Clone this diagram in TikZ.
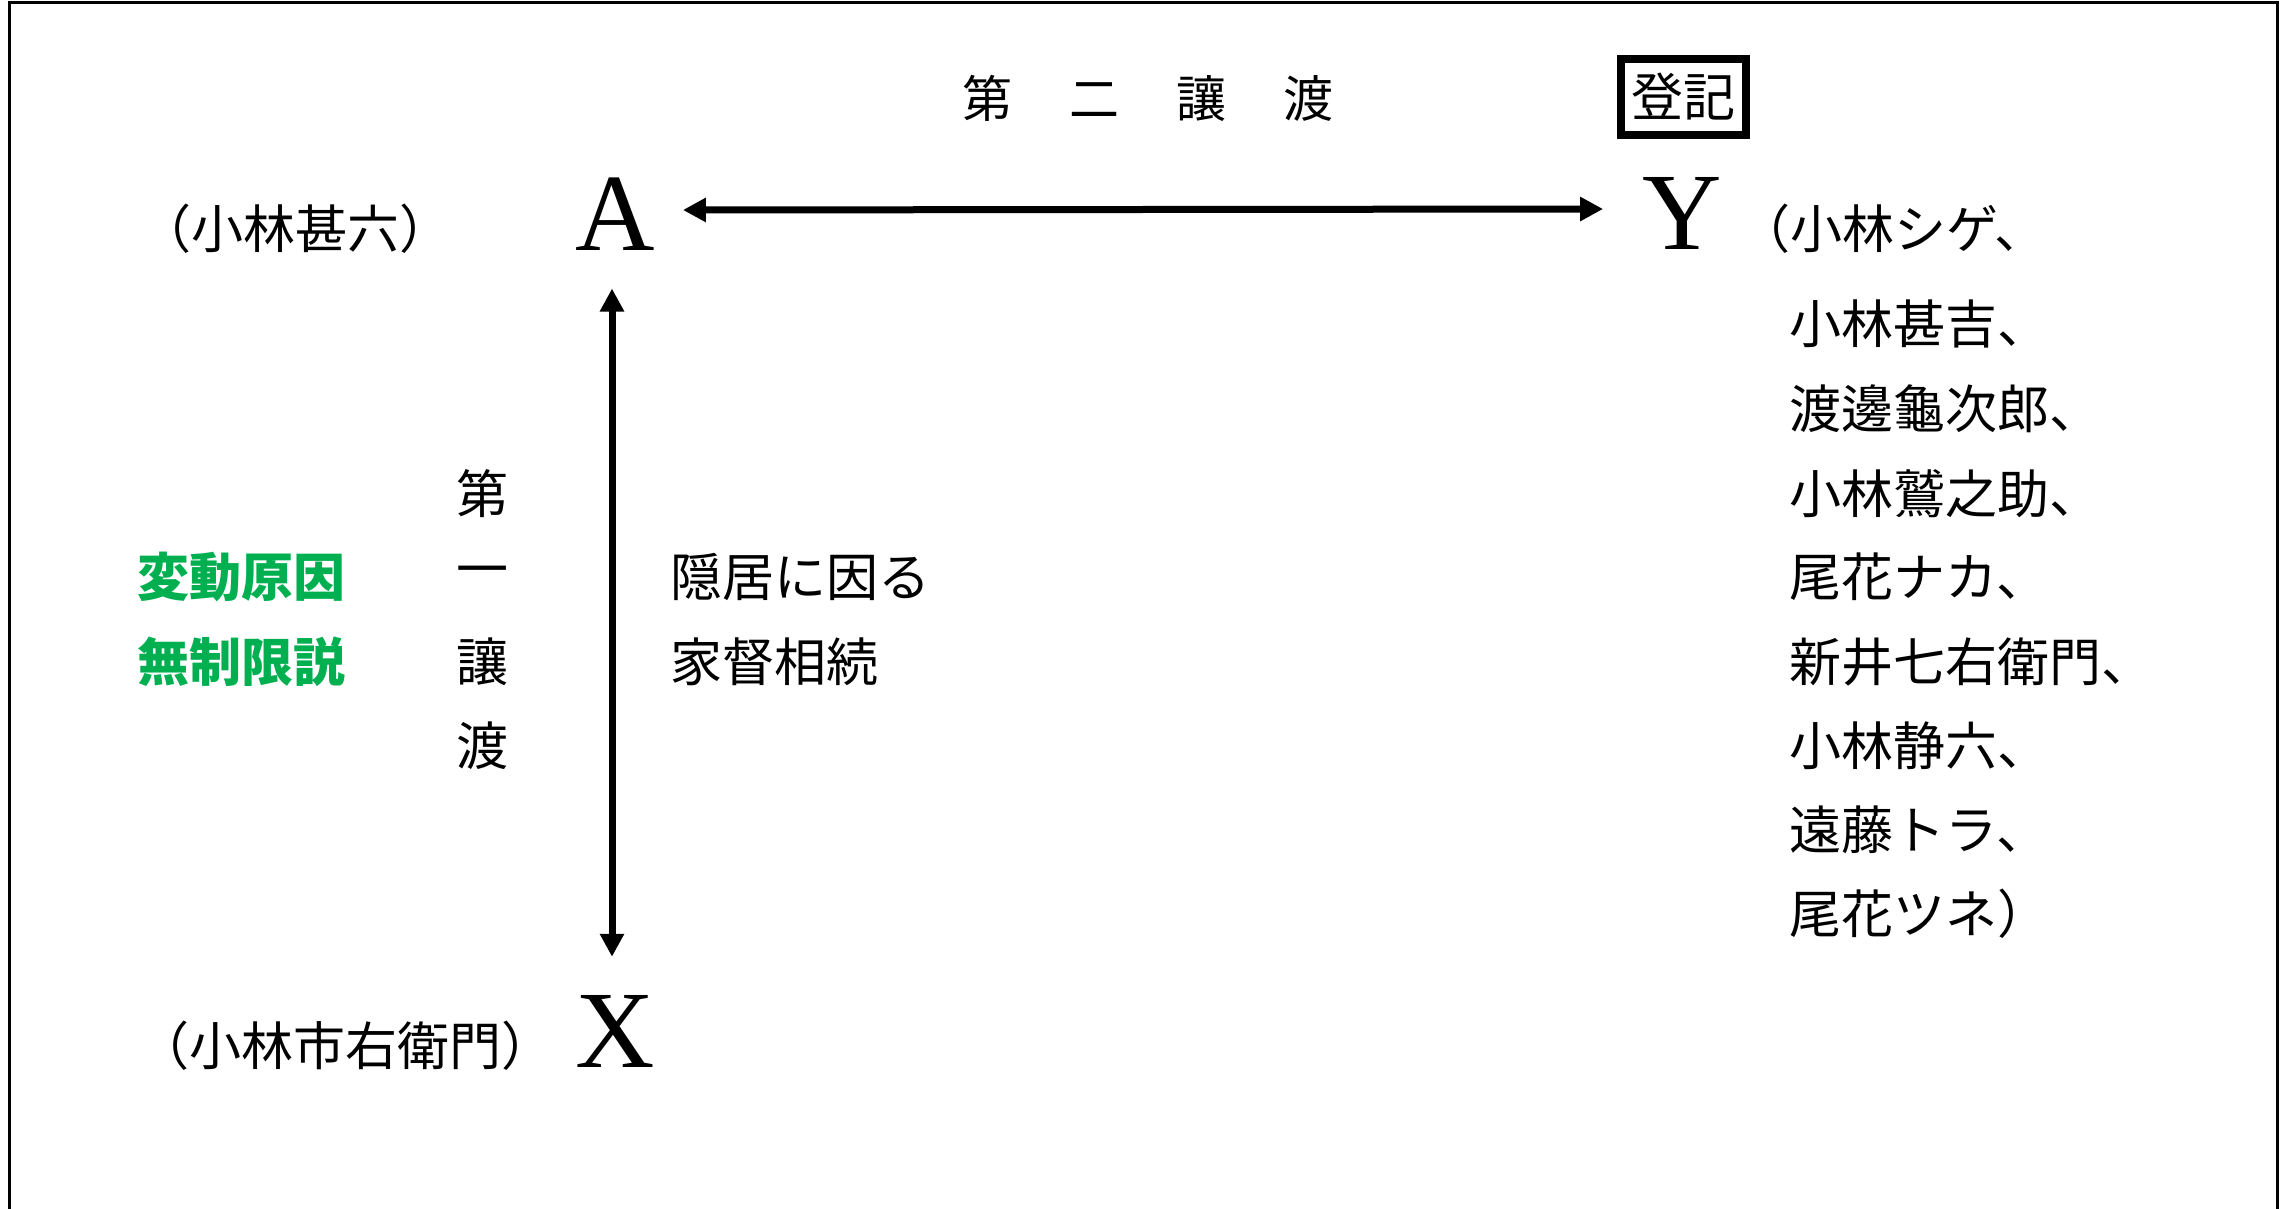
\documentclass[tikz,border=0pt]{standalone}
\usepackage{fontspec}
\setmainfont{Liberation Serif}
\newfontfamily\jp{Noto Sans CJK JP}
\usetikzlibrary{arrows.meta}
\definecolor{grn}{RGB}{0,176,80}
\begin{document}
\begin{tikzpicture}[x=1pt,y=-1pt,
  jt/.style={font=\jp\fontsize{52}{52}\selectfont, inner sep=0pt},
  gt/.style={font=\jp\bfseries\fontsize{52}{52}\selectfont, inner sep=0pt, text=grn},
  big/.style={font=\fontsize{110}{110}\selectfont, inner sep=0pt},
  arr/.style={line width=7pt, {Triangle[length=23pt,width=23pt]}-{Triangle[length=23pt,width=23pt]}},
  lst/.style={jt, anchor=west}
]
\useasboundingbox (0,0) rectangle (2290,1209);
\draw[line width=3pt] (9,1215) -- (9,3) -- (2277,3) -- (2277,1215);

% parties
\node[big] (A) at (615,214) {A};
\node[big] (Y) at (1682,213) {Y};
\node[big] (X) at (615,1031) {X};

\draw[arr] ([xshift=28pt,yshift=4pt]A.east) -- ([xshift=-39pt,yshift=4pt]Y.west);
\draw[arr] ([xshift=-3pt,yshift=-38pt]A.south) -- ([xshift=-3pt,yshift=38pt]X.north);

% names
\node[jt] (aname) at (295,229) {（小林甚六）};
\node[jt] (xname) at (345,1046) {（小林市右衛門）};

% second transfer
\node[jt, font=\jp\fontsize{50}{50}\selectfont] (t2) at (1148,98) {第\hspace{57pt}二\hspace{57pt}讓\hspace{57pt}渡};
\node[jt, draw, line width=8pt, minimum width=125pt, minimum height=76pt] (reg) at (1683,97) {登記};

% first transfer (vertical)
\node[jt] (v1) at (482,494) {第};
\node[jt] (v2) at (482,577) {一};
\node[jt] (v3) at (482,662) {讓};
\node[jt] (v4) at (482,746) {渡};

% green
\node[gt] (g1) at (241,577) {変動原因};
\node[gt] (g2) at (241,662) {無制限説};

% cause
\node[lst] (c1) at (670,577) {隠居に因る};
\node[lst] (c2) at (670,662) {家督相続};

% Y list
\node[lst] (y0) at (1738,229) {（小林シゲ、};
\node[lst] (y1) at (1789,324) {小林甚吉、};
\node[lst] (y2) at (1789,409) {渡邊龜次郎、};
\node[lst] (y3) at (1789,494) {小林鷲之助、};
\node[lst] (y4) at (1789,577) {尾花ナカ、};
\node[lst] (y5) at (1789,662) {新井七右衛門、};
\node[lst] (y6) at (1789,746) {小林静六、};
\node[lst] (y7) at (1789,830) {遠藤トラ、};
\node[lst] (y8) at (1789,914) {尾花ツネ）};
\end{tikzpicture}
\end{document}
